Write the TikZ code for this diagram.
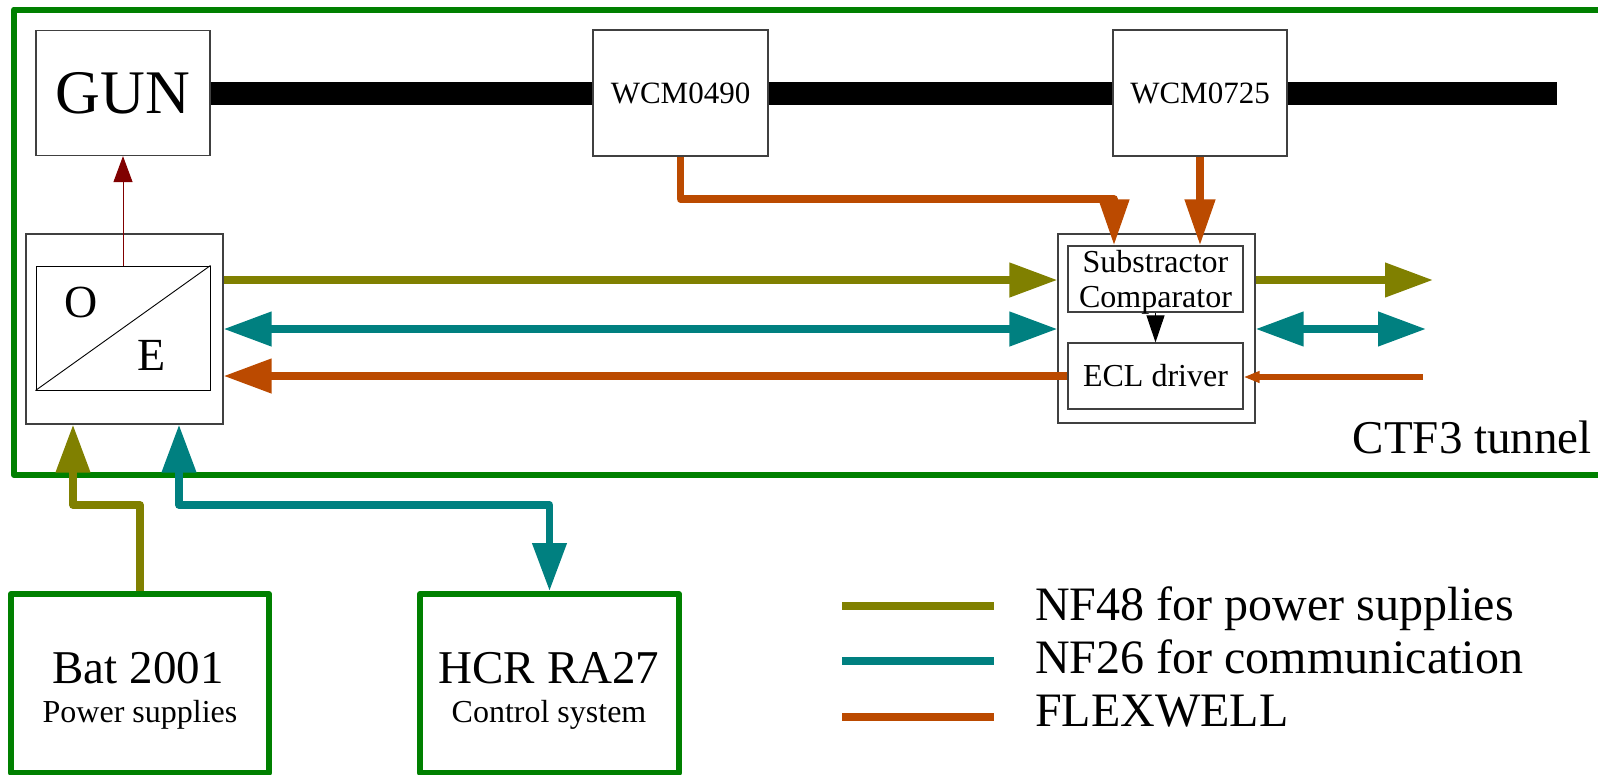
\documentclass[tikz,border=0pt]{standalone}
\usepackage{fontspec}
\setmainfont{Liberation Serif}
\usetikzlibrary{arrows.meta}
\definecolor{cOlive}{RGB}{128,128,0}
\definecolor{cTeal}{RGB}{0,128,128}
\definecolor{cFlex}{RGB}{187,74,0}
\definecolor{cGreen}{RGB}{0,128,0}
\definecolor{cDRed}{RGB}{128,0,0}
\begin{document}
\begin{tikzpicture}[x=1pt,y=-1pt,
  fs/.style={font=\fontsize{#1}{#1}\selectfont},
  box/.style={draw=black!75, line width=1.2pt, fill=white, inner sep=0pt},
  greenbox/.style={draw=cGreen, line width=6pt, line join=round, inner sep=0pt},
  txt/.style={inner sep=0pt},
  wire/.style={line width=7.5pt, line join=round},
  bigtip/.style={-{Triangle[length=48pt,width=33pt]}},
  bothtips/.style={{Triangle[length=48pt,width=33pt]}-{Triangle[length=48pt,width=33pt]}},
  midtip/.style={-{Triangle[length=46pt,width=29pt]}},
  smalltip/.style={-{Triangle[length=16pt,width=11pt]}},
]
\useasboundingbox (0,0) rectangle (1598,774);

% tunnel frame
\node[greenbox, minimum width=1589pt, minimum height=465.5pt] (tunnel) at (808.5,242.25) {};
\node[txt, fs=47, anchor=base east] (ctf) at (1592,453) {CTF3 tunnel};

% beam line boxes
\node[box, minimum width=174pt, minimum height=125pt, fs=62] (gun) at (123,93) {GUN};
\node[box, minimum width=175pt, minimum height=126pt, fs=31] (wcm1) at (680.5,93) {WCM0490};
\node[box, minimum width=174pt, minimum height=126pt, fs=31] (wcm2) at (1200,93) {WCM0725};
\coordinate (bend) at (1557,93);
\draw[line width=23pt] (gun.east) -- (wcm1.west) (wcm1.east) -- (wcm2.west) (wcm2.east) -- (bend);

% O/E converter
\node[box, minimum width=197pt, minimum height=190pt] (oe) at (124.5,329) {};
\node[box, draw=black, line width=1pt, minimum width=174pt, minimum height=124pt] (oein) at (123,328) {};
\draw[line width=0.9pt] (oein.south west) -- (oein.north east);
\node[txt, fs=46] (olab) at (81,302) {O};
\node[txt, fs=46] (elab) at (152,355) {E};

% comparator unit
\node[box, minimum width=197pt, minimum height=189pt] (comp) at (1156.5,328.5) {};
\node[box, minimum width=175pt, minimum height=66pt] (sub) at (1155.5,279) {};
\node[box, minimum width=175pt, minimum height=66pt, fs=32] (ecl) at (1155.5,376) {ECL driver};
\node[txt, fs=32, anchor=base] (subt) at (1155.5,272) {Substractor};
\node[txt, fs=32, anchor=base] (cmpt) at (1155.5,307) {Comparator};

% outside boxes
\node[greenbox, minimum width=258pt, minimum height=179pt] (bat) at (140,683.5) {};
\node[greenbox, minimum width=259pt, minimum height=179pt] (hcr) at (549.5,683.5) {};
\node[txt, fs=47, anchor=base] (batt) at (138,683) {Bat 2001};
\node[txt, fs=32, anchor=base] (bats) at (140,722) {Power supplies};
\node[txt, fs=47, anchor=base] (hcrt) at (549,683) {HCR RA27};
\node[txt, fs=32, anchor=base] (hcrs) at (549,722) {Control system};

% connectors inside the tunnel
\draw[line width=1pt, cDRed, -{Triangle[length=26pt,width=19pt]}] (oein.north) -- (gun.south);
\draw[wire, cOlive, bigtip] ([yshift=49pt]oe.east) -- ([yshift=49pt]oe.east -| comp.west);
\draw[wire, cTeal, bothtips] (oe.east) -- (oe.east -| comp.west);
\draw[wire, cFlex, bigtip] (ecl.west) -- (ecl.west -| oe.east);

\coordinate (k1) at (1114,199);
\draw[wire, cFlex, midtip] (wcm1.south) |- (k1) -- (k1 |- sub.north);
\draw[wire, cFlex, midtip] (wcm2.south) -- (wcm2.south |- sub.north);
\draw[line width=1pt, -{Triangle[length=27pt,width=18pt]}] (sub.south) -- (ecl.north);

\coordinate (r1) at (1433,280);
\coordinate (r2) at (1426,329);
\coordinate (r3) at (1423,377);
\draw[wire, cOlive, bigtip] (comp.east |- r1) -- (r1);
\draw[wire, cTeal, bothtips] (comp.east |- r2) -- (r2);
\draw[line width=6.5pt, cFlex, smalltip] (r3) -- (ecl.east |- r3);

% connectors to outside
\coordinate (k2) at (73,505);
\coordinate (k3) at (179,505);
\draw[wire, cOlive, bigtip] (bat.north) |- (k2) -- (k2 |- oe.south);
\draw[wire, cTeal, bothtips] (hcr.north) |- (k3) -- (k3 |- oe.south);

% legend
\coordinate (lg1a) at (842,606); \coordinate (lg1b) at (994,606);
\coordinate (lg2a) at (842,661); \coordinate (lg2b) at (994,661);
\coordinate (lg3a) at (842,717); \coordinate (lg3b) at (994,717);
\draw[line width=8pt, cOlive] (lg1a) -- (lg1b);
\draw[line width=8pt, cTeal] (lg2a) -- (lg2b);
\draw[line width=8pt, cFlex] (lg3a) -- (lg3b);
\node[txt, fs=48, anchor=base west] (lgt1) at (1035,620) {NF48 for power supplies};
\node[txt, fs=48, anchor=base west] (lgt2) at (1035,673) {NF26 for communication};
\node[txt, fs=48, anchor=base west] (lgt3) at (1035,726) {FLEXWELL};
\end{tikzpicture}
\end{document}
